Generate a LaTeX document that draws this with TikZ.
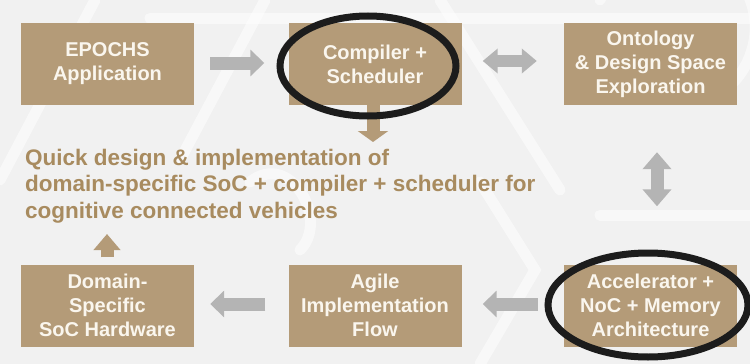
\documentclass[tikz,border=0pt]{standalone}
\usepackage{fontspec}
\setmainfont{Liberation Sans}
\usetikzlibrary{arrows.meta}
\definecolor{bg}{HTML}{F1F1F1}
\definecolor{boxtan}{HTML}{B49B78}
\definecolor{texttan}{HTML}{A88B5F}
\definecolor{flowgray}{HTML}{B4B4B4}
\definecolor{boxtext}{HTML}{FAF6EE}
\definecolor{ring}{HTML}{1C1C1C}
\tikzset{
  stage/.style={fill=boxtan, draw=none, minimum width=173pt, minimum height=82pt,
    inner sep=0pt, align=center, text=boxtext,
    font=\fontsize{20}{24}\selectfont\bfseries},
  grayflow/.style={draw=flowgray, line width=13pt},
  tanflow/.style={draw=boxtan, line width=13pt},
  ringmark/.style={draw=ring, line width=7pt},
  watermark/.style={draw=white, line width=11pt, opacity=0.55, line cap=round}
}
\begin{document}
\begin{tikzpicture}[x=1pt, y=-1pt]
  \useasboundingbox (0,0) rectangle (750,364);
  \fill[bg] (0,0) rectangle (750,364);

  % faint emblem strokes in the backdrop
  \draw[watermark] (95,0) -- (0,180);
  \draw[watermark] (265,0) -- (180,160);
  \draw[watermark] (150,18) -- (750,18);
  \draw[watermark] (440,0) -- (560,190);
  \draw[watermark] (600,0) arc[start angle=160, end angle=-60, radius=80pt];
  \draw[watermark] (600,215) -- (750,215);
  \draw[watermark] (480,182) -- (535,270) -- (480,364);
  \draw[watermark] (250,182) .. controls (290,150) and (330,220) .. (300,250);

  % stages of the flow
  \node[stage] (epochs) at (107.5,64) {EPOCHS\\Application};
  \node[stage] (compiler) at (375,64) {Compiler +\\Scheduler};
  \node[stage] (ontology) at (650.5,64) {Ontology\\\& Design Space\\Exploration};
  \node[stage] (domain) at (107.5,305.5) {Domain-\\Specific\\SoC Hardware};
  \node[stage] (agile) at (375,305.5) {Agile\\Implementation\\Flow};
  \node[stage] (accel) at (650.5,305.5) {Accelerator +\\NoC + Memory\\Architecture};

  % goal statement (base anchor sits on the last line)
  \node[anchor=base west, inner sep=0pt, align=left, text=texttan,
        font=\fontsize{22.5}{26.5}\selectfont\bfseries] (goal) at (25,218)
    {Quick design \& implementation of\\
     domain-specific SoC + compiler + scheduler for\\
     cognitive connected vehicles};

  % gray block arrows between stages
  \draw[grayflow, -{Triangle[width=26pt,length=14pt]}, shorten <=16pt, shorten >=24pt]
    ([yshift=1pt]epochs.east) -- ([yshift=1pt]compiler.west);
  \draw[grayflow, line width=12pt, {Triangle[width=24pt,length=15pt]}-{Triangle[width=24pt,length=15pt]},
        shorten <=21pt, shorten >=27pt]
    ([yshift=3pt]compiler.east) -- ([yshift=3pt]ontology.west);
  \draw[grayflow, {Triangle[width=28pt,length=17pt]}-{Triangle[width=28pt,length=17pt]},
        shorten <=47pt, shorten >=58pt]
    ([xshift=6.5pt]ontology.south) -- ([xshift=6.5pt]accel.north);
  \draw[grayflow, -{Triangle[width=26pt,length=14pt]}, shorten <=26pt, shorten >=21pt]
    ([yshift=1.5pt]accel.west) -- ([yshift=1.5pt]agile.east);
  \draw[grayflow, -{Triangle[width=26pt,length=14pt]}, shorten <=23pt, shorten >=16pt]
    ([yshift=1.5pt]agile.west) -- ([yshift=1.5pt]domain.east);

  % tan arrows into and out of the goal
  \coordinate (goalhead) at (373,142);
  \draw[tanflow, -{Triangle[width=30pt,length=11pt]}]
    (compiler.south -| goalhead) -- (goalhead);
  \coordinate (goalfoot) at (107,234);
  \draw[tanflow, -{Triangle[width=26pt,length=16pt]}, shorten <=7pt]
    (domain.north -| goalfoot) -- (goalfoot);

  % highlight rings
  \draw[ringmark] (368,66) ellipse [x radius=88pt, y radius=50pt];
  \draw[ringmark] (648,305) ellipse [x radius=100pt, y radius=52pt];
\end{tikzpicture}
\end{document}
